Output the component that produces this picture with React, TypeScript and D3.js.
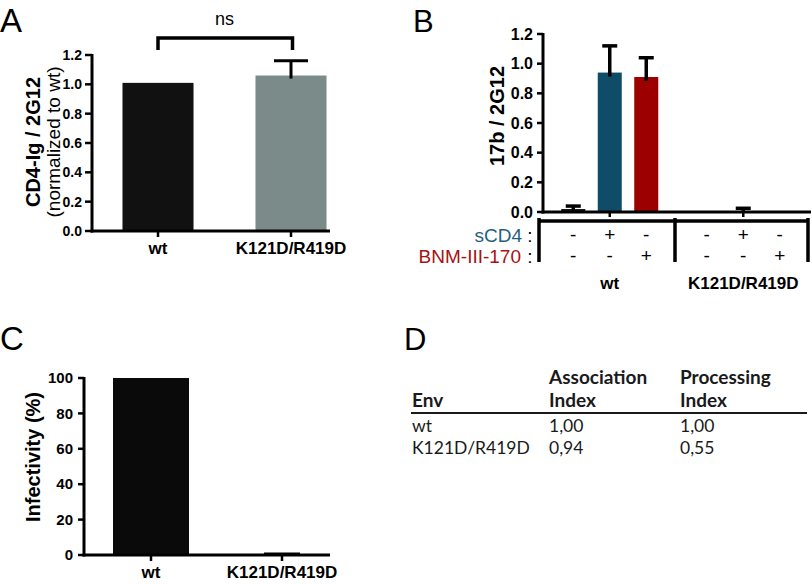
import React from "react";
import * as d3 from "d3";

// ---------- Data ----------
const aCategories = ["wt", "K121D/R419D"];
const aValues = [1.01, 1.06];
const aErrors = [0, 0.1];
const aTicks = [0, 0.2, 0.4, 0.6, 0.8, 1.0, 1.2];

const bGroups = ["wt", "K121D/R419D"];
const bConditions = ["none", "sCD4", "BNM-III-170"];
const bWtValues = [0.02, 0.94, 0.91];
const bWtErrors = [0.02, 0.18, 0.13];
const bMutValues = [0, 0.005, 0];
const bMutErrors = [0, 0.02, 0];
const bTicks = [0, 0.2, 0.4, 0.6, 0.8, 1.0, 1.2];
const sCD4Signs = ["-", "+", "-"];
const bnmSigns = ["-", "-", "+"];

const cCategories = ["wt", "K121D/R419D"];
const cValues = [100, 0.5];
const cErrors = [0, 0.3];
const cTicks = [0, 20, 40, 60, 80, 100];

const dHeaders = [["Env"], ["Association", "Index"], ["Processing", "Index"]];
const dRows = [
  ["wt", "1,00", "1,00"],
  ["K121D/R419D", "0,94", "0,55"],
];

const ARIAL = "'Liberation Sans', Arial, sans-serif";
const TABLE_FONT = "Lato, 'Open Sans', sans-serif";

export default function App() {
  // ---------- Panel A ----------
  const aY = d3.scaleLinear().domain([0, 1.2]).range([231, 55]);
  const aX = d3.scaleBand().domain(aCategories).range([91.5, 357.5]).paddingInner(0.466).paddingOuter(0.233);
  const aColors = ["#111111", "#7b8b89"];

  // ---------- Panel B ----------
  const bY = d3.scaleLinear().domain([0, 1.2]).range([212, 34]);
  const bX0 = d3.scaleBand().domain(bGroups).range([543, 810]).padding(0);
  const bX1 = d3.scaleBand().domain(bConditions).range([0, bX0.bandwidth()]).paddingInner(0.342).paddingOuter(0.5);
  const bColors = ["#111111", "#0f4c68", "#9c0000"];
  const bSeries = [
    { g: bGroups[0], vals: bWtValues, errs: bWtErrors },
    { g: bGroups[1], vals: bMutValues, errs: bMutErrors },
  ];

  // ---------- Panel C ----------
  const cY = d3.scaleLinear().domain([0, 100]).range([555, 378]);
  const cX = d3.scaleBand().domain(cCategories).range([85.5, 347.5]).paddingInner(0.42).paddingOuter(0.21);
  const cColors = ["#0a0a0a", "#333333"];

  const tableCols = [412, 549, 680];

  return (
    <svg width={812} height={584} style={{ display: "block", position: "absolute", left: 0, top: 0, background: "#fff" }}>
      {/* ================= Panel A ================= */}
      <text x={0} y={32} fontFamily={ARIAL} fontSize={33}>A</text>
      {aCategories.map((c, i) => (
        <rect key={c} x={aX(c)} y={aY(aValues[i])} width={aX.bandwidth()} height={aY(0) - aY(aValues[i])} fill={aColors[i]} />
      ))}
      {aCategories.map((c, i) =>
        aErrors[i] > 0 ? (
          <g key={"e" + c} stroke="#000" strokeWidth={3}>
            <line x1={aX(c)! + aX.bandwidth() / 2} x2={aX(c)! + aX.bandwidth() / 2} y1={aY(aValues[i]) + 3} y2={aY(aValues[i] + aErrors[i])} />
            <line x1={aX(c)! + aX.bandwidth() / 2 - 17} x2={aX(c)! + aX.bandwidth() / 2 + 17} y1={aY(aValues[i] + aErrors[i])} y2={aY(aValues[i] + aErrors[i])} />
          </g>
        ) : null
      )}
      {/* axes */}
      <line x1={92} x2={92} y1={aY(1.2) - 1} y2={aY(0) + 1.5} stroke="#000" strokeWidth={3} />
      <line x1={90.5} x2={330} y1={aY(0)} y2={aY(0)} stroke="#000" strokeWidth={3} />
      {aTicks.map((t) => (
        <g key={t}>
          <line x1={85} x2={92} y1={aY(t)} y2={aY(t)} stroke="#000" strokeWidth={2.5} />
          <text x={82} y={aY(t)} dy="0.35em" textAnchor="end" fontFamily={ARIAL} fontWeight="bold" fontSize={14}>{d3.format(".1f")(t)}</text>
        </g>
      ))}
      {aCategories.map((c) => (
        <g key={"t" + c}>
          <line x1={aX(c)! + aX.bandwidth() / 2} x2={aX(c)! + aX.bandwidth() / 2} y1={aY(0)} y2={aY(0) + 6} stroke="#000" strokeWidth={2.5} />
          <text x={aX(c)! + aX.bandwidth() / 2} y={254} textAnchor="middle" fontFamily={ARIAL} fontWeight="bold" fontSize={17}>{c}</text>
        </g>
      ))}
      <text transform="translate(40,142) rotate(-90)" textAnchor="middle" fontFamily={ARIAL} fontWeight="bold" fontSize={20}>CD4-Ig / 2G12</text>
      <text transform="translate(60,142) rotate(-90)" textAnchor="middle" fontFamily={ARIAL} fontSize={19}>(normalized to wt)</text>
      {/* significance bracket */}
      <path
        d={`M${aX(aCategories[0])! + aX.bandwidth() / 2},50 V38 H${aX(aCategories[1])! + aX.bandwidth() / 2 + 1.5} V50`}
        fill="none" stroke="#000" strokeWidth={3.5}
      />
      <text x={(aX(aCategories[0])! + aX(aCategories[1])! + aX.bandwidth()) / 2} y={25} textAnchor="middle" fontFamily={ARIAL} fontSize={18}>ns</text>

      {/* ================= Panel B ================= */}
      <text x={413} y={32} fontFamily={ARIAL} fontSize={31}>B</text>
      {bSeries.map((s) =>
        bConditions.map((cond, j) => {
          const x = bX0(s.g)! + bX1(cond)!;
          const w = bX1.bandwidth();
          const v = s.vals[j];
          const e = s.errs[j];
          const cx = x + w / 2;
          return (
            <g key={s.g + cond}>
              {v > 0 && <rect x={x} y={bY(v)} width={w} height={bY(0) - bY(v)} fill={bColors[j]} />}
              {e > 0 && (
                <g stroke="#000" strokeWidth={3.5}>
                  <line x1={cx} x2={cx} y1={Math.min(bY(v) + 4, bY(0))} y2={bY(v + e)} />
                  <line x1={cx - 7.5} x2={cx + 7.5} y1={bY(v + e)} y2={bY(v + e)} />
                </g>
              )}
            </g>
          );
        })
      )}
      <line x1={543} x2={543} y1={bY(1.2) - 1} y2={bY(0) + 1.5} stroke="#000" strokeWidth={3} />
      <line x1={541.5} x2={811} y1={bY(0)} y2={bY(0)} stroke="#000" strokeWidth={3} />
      {bTicks.map((t) => (
        <g key={"b" + t}>
          <line x1={537} x2={543} y1={bY(t)} y2={bY(t)} stroke="#000" strokeWidth={2.5} />
          <text x={533} y={bY(t)} dy="0.35em" textAnchor="end" fontFamily={ARIAL} fontWeight="bold" fontSize={16}>{d3.format(".1f")(t)}</text>
        </g>
      ))}
      {bGroups.map((g) => (
        <line key={"bt" + g} x1={bX0(g)! + bX0.bandwidth() / 2} x2={bX0(g)! + bX0.bandwidth() / 2} y1={bY(0)} y2={bY(0) + 5} stroke="#000" strokeWidth={2.5} />
      ))}
      <text transform="translate(504,116) rotate(-90)" textAnchor="middle" fontFamily={ARIAL} fontWeight="bold" fontSize={20}>17b / 2G12</text>
      {/* condition table */}
      <line x1={539} x2={808} y1={221} y2={221} stroke="#000" strokeWidth={3.5} />
      {[bX0(bGroups[0])! - 4, bX0(bGroups[1])! - 1.5, bX0(bGroups[1])! + bX0.bandwidth() - 2].map((x, i) => (
        <line key={"sep" + i} x1={x} x2={x} y1={218} y2={262} stroke="#000" strokeWidth={3.5} />
      ))}
      {bGroups.map((g) =>
        bConditions.map((cond, j) => {
          const cx = bX0(g)! + bX1(cond)! + bX1.bandwidth() / 2;
          return (
            <g key={"sg" + g + cond} fontFamily={ARIAL} fontSize={19} textAnchor="middle">
              <text x={cx} y={241}>{sCD4Signs[j]}</text>
              <text x={cx} y={262}>{bnmSigns[j]}</text>
            </g>
          );
        })
      )}
      <text x={522} y={242} textAnchor="end" fontFamily={ARIAL} fontSize={19} fill="#1f5f80">sCD4</text>
      <text x={521} y={263} textAnchor="end" fontFamily={ARIAL} fontSize={19} fill="#a51212">BNM-III-170</text>
      <text x={530} y={242} textAnchor="middle" fontFamily={ARIAL} fontSize={19}>:</text>
      <text x={530} y={263} textAnchor="middle" fontFamily={ARIAL} fontSize={19}>:</text>
      {bGroups.map((g) => (
        <text key={"bl" + g} x={bX0(g)! + bX0.bandwidth() / 2} y={289} textAnchor="middle" fontFamily={ARIAL} fontWeight="bold" fontSize={17}>{g}</text>
      ))}

      {/* ================= Panel C ================= */}
      <text x={0} y={350} fontFamily={ARIAL} fontSize={33}>C</text>
      {cCategories.map((c, i) => (
        <rect key={"c" + c} x={cX(c)} y={cY(cValues[i])} width={cX.bandwidth()} height={cY(0) - cY(cValues[i])} fill={cColors[i]} />
      ))}
      {cCategories.map((c, i) =>
        cErrors[i] > 0 ? (
          <line key={"ce" + c} x1={cX(c)! + cX.bandwidth() / 2 - 18} x2={cX(c)! + cX.bandwidth() / 2 + 18} y1={cY(cValues[i] + cErrors[i])} y2={cY(cValues[i] + cErrors[i])} stroke="#000" strokeWidth={2} />
        ) : null
      )}
      <line x1={84} x2={84} y1={cY(100) - 1} y2={cY(0) + 1.5} stroke="#000" strokeWidth={3} />
      <line x1={82.5} x2={330} y1={cY(0)} y2={cY(0)} stroke="#000" strokeWidth={3} />
      {cTicks.map((t) => (
        <g key={"ct" + t}>
          <line x1={78} x2={84} y1={cY(t)} y2={cY(t)} stroke="#000" strokeWidth={2.5} />
          <text x={73} y={cY(t)} dy="0.35em" textAnchor="end" fontFamily={ARIAL} fontWeight="bold" fontSize={15}>{t}</text>
        </g>
      ))}
      {cCategories.map((c) => (
        <g key={"cl" + c}>
          <line x1={cX(c)! + cX.bandwidth() / 2} x2={cX(c)! + cX.bandwidth() / 2} y1={cY(0)} y2={cY(0) + 6} stroke="#000" strokeWidth={2.5} />
          <text x={cX(c)! + cX.bandwidth() / 2} y={578} textAnchor="middle" fontFamily={ARIAL} fontWeight="bold" fontSize={17}>{c}</text>
        </g>
      ))}
      <text transform="translate(40,457) rotate(-90)" textAnchor="middle" fontFamily={ARIAL} fontWeight="bold" fontSize={20}>Infectivity (%)</text>

      {/* ================= Panel D ================= */}
      <text x={404} y={350} fontFamily={ARIAL} fontSize={31}>D</text>
      {dHeaders.map((h, i) =>
        h.map((line, k) => (
          <text key={"h" + i + k} x={tableCols[i]} y={407 - (h.length - 1 - k) * 23} fontFamily={TABLE_FONT} fontWeight="bold" fontSize={19} fill="#1a1a1a">{line}</text>
        ))
      )}
      <line x1={411} x2={807} y1={413} y2={413} stroke="#1a1a1a" strokeWidth={2} />
      {dRows.map((r, ri) =>
        r.map((cell, ci) => (
          <text key={"r" + ri + ci} x={tableCols[ci]} y={432 + ri * 22} fontFamily={TABLE_FONT} fontSize={17.5} fill="#1a1a1a">{cell}</text>
        ))
      )}
    </svg>
  );
}
